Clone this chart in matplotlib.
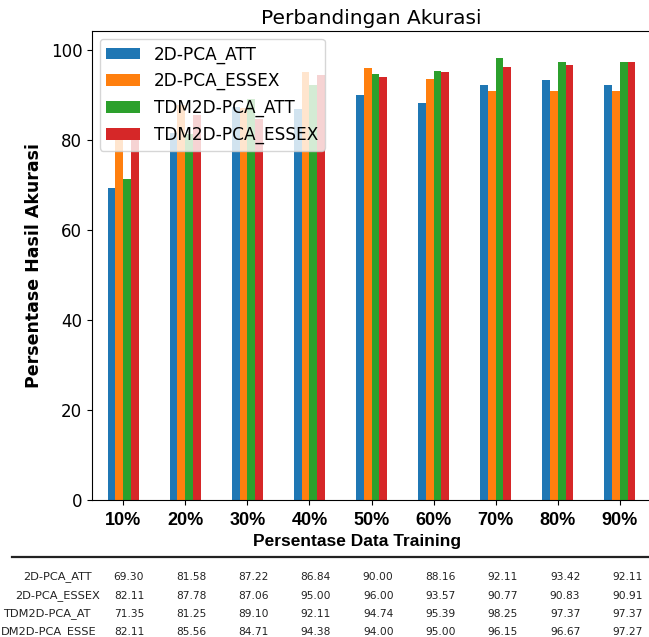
import pandas as pd
import matplotlib
matplotlib.use('Agg')
import matplotlib.pyplot as plt
from matplotlib.lines import Line2D

categories = ['10%', '20%', '30%', '40%', '50%', '60%', '70%', '80%', '90%']
pca_att = [69.30, 81.58, 87.22, 86.84, 90.00, 88.16, 92.11, 93.42, 92.11]
pca_essex = [82.11, 87.78, 87.06, 95.00, 96.00, 93.57, 90.77, 90.83, 90.91]
tdm_att = [71.35, 81.25, 89.10, 92.11, 94.74, 95.39, 98.25, 97.37, 97.37]
tdm_essex = [82.11, 85.56, 84.71, 94.38, 94.00, 95.00, 96.15, 96.67, 97.27]

series_names = ['2D-PCA_ATT', '2D-PCA_ESSEX', 'TDM2D-PCA_ATT', 'TDM2D-PCA_ESSEX']
# row labels as they appear (truncated) in the table under the chart
table_labels = ['2D-PCA_ATT', '2D-PCA_ESSEX', 'TDM2D-PCA_AT', 'DM2D-PCA_ESSE']

W, H = 649, 637


def fx(px):
    return px / W


def fy(py):
    return 1 - py / H


def main():
    df = pd.DataFrame({
        series_names[0]: pca_att,
        series_names[1]: pca_essex,
        series_names[2]: tdm_att,
        series_names[3]: tdm_essex,
    }, index=categories)

    fig = plt.figure(figsize=(W / 100, H / 100), dpi=100)
    ax = fig.add_axes([fx(92), fy(500), fx(651) - fx(92), fy(31) - fy(500)])

    df.plot(kind='bar', ax=ax, rot=0,
            color=['#1f77b4', '#ff7f0e', '#2ca02c', '#d62728'])
    ax.set_ylim(0, 104.2)
    ax.set_yticks([0, 20, 40, 60, 80, 100])
    ax.tick_params(axis='y', labelsize=12)
    ax.tick_params(axis='x', pad=5)
    for lbl in ax.get_xticklabels():
        lbl.set_fontfamily('Liberation Sans')
        lbl.set_fontweight('bold')
        lbl.set_fontsize(13)
    ax.set_title('Perbandingan Akurasi', fontsize=14.5, pad=5)
    ax.set_xlabel('Persentase Data Training', fontfamily='Liberation Sans',
                  fontweight='bold', fontsize=12.5)
    ax.xaxis.set_label_coords((357 - 92) / 559, -(534 - 500) / 469)
    ax.set_ylabel('Persentase Hasil Akurasi', fontweight='bold', fontsize=12.5)
    ax.yaxis.set_label_coords(-(92 - 43) / 559, 0.5)
    ax.legend(loc='upper left', fontsize=12.2, borderaxespad=0.45)

    # Table below the chart
    fig.add_artist(Line2D([fx(12), 1], [fy(557), fy(557)], color='#222222', lw=1.6))
    rows = [pca_att, pca_essex, tdm_att, tdm_essex]
    row_y = [577, 596, 614, 632]
    label_x = [57, 58, 47, 49]
    for r, vals in enumerate(rows):
        fig.text(fx(label_x[r]), fy(row_y[r]), table_labels[r], fontsize=8.2,
                 ha='center', va='center', color='#222222')
        for c, v in enumerate(vals):
            fig.text(fx(129 + 62.3 * c), fy(row_y[r]), f'{v:.2f}', fontsize=7.7,
                     ha='center', va='center', color='#222222')

    fig.savefig('out.png', dpi=100)


if __name__ == "__main__":
    main()
